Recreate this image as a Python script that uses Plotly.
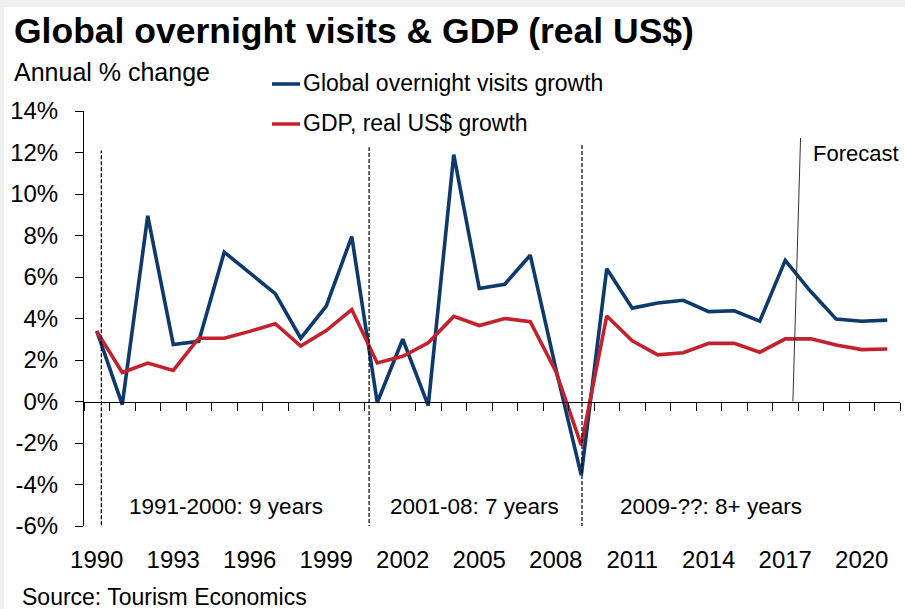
import plotly.graph_objects as go

# ---------------- data ----------------
years = list(range(1990, 2022))
visits_growth = [3.4, -0.15, 8.95, 2.75, 2.9, 7.2, 6.2, 5.2, 3.05, 4.6,
                 7.95, -0.05, 3.0, -0.2, 11.9, 5.45, 5.65, 7.05, 1.6, -3.55,
                 6.4, 4.5, 4.75, 4.88, 4.33, 4.37, 3.87, 6.8, 5.3, 3.97,
                 3.87, 3.92]
gdp_growth = [3.38, 1.4, 1.85, 1.5, 3.05, 3.05, 3.38, 3.75, 2.67, 3.42,
              4.43, 1.86, 2.18, 2.83, 4.1, 3.66, 4.0, 3.85, 1.46, -2.1,
              4.12, 2.92, 2.25, 2.35, 2.8, 2.8, 2.37, 3.02, 3.02, 2.72,
              2.5, 2.53]
year_labels = [str(y) for y in range(1990, 2021, 3)]
y_ticks = list(range(-6, 15, 2))
y_tick_labels = [f"{v}%" for v in y_ticks]
series_names = ["Global overnight visits growth", "GDP, real US$ growth"]
era_labels = ["1991-2000: 9 years", "2001-08: 7 years", "2009-??: 8+ years"]

# ---------------- layout constants ----------------
W, H = 905, 609
L, R, T, B = 84, 5, 111, 83
PW, PH = W - L - R, H - T - B
YMIN, YMAX = -6, 14
FONT = "Liberation Sans, Arial, sans-serif"
BLUE = "#0d3a6b"
RED = "#c4212e"


def px(x):
    return (x - L) / PW


def py(y):
    return (H - B - y) / PH


fig = go.Figure()
fig.add_trace(go.Scatter(x=years, y=visits_growth, mode="lines",
                         line=dict(color=BLUE, width=3.6),
                         name=series_names[0], showlegend=False,
                         hoverinfo="skip"))
fig.add_trace(go.Scatter(x=years, y=gdp_growth, mode="lines",
                         line=dict(color=RED, width=3.6),
                         name=series_names[1], showlegend=False,
                         hoverinfo="skip"))
# invisible trace to activate the zero-crossing category axis
fig.add_trace(go.Scatter(x=years, y=gdp_growth, mode="lines", xaxis="x2",
                         opacity=0, showlegend=False, hoverinfo="skip"))

boundaries = [y - 0.5 for y in years] + [years[-1] + 0.5]
xr = [years[0] - 0.5, years[-1] + 0.5]

shapes = []
# white card over light-gray frame
shapes.append(dict(type="rect", xref="paper", yref="paper",
                   x0=px(4), x1=px(W + 2), y0=py(H + 2), y1=py(7),
                   fillcolor="white", line=dict(width=0), layer="below"))
# era divider dashed lines
for xv, ytop, ybot in [(1990.18, 12.1, -6.25), (2000.68, 12.25, -6.15),
                       (2009.03, 12.4, -6.05)]:
    shapes.append(dict(type="line", xref="x", yref="y", x0=xv, x1=xv,
                       y0=ybot, y1=ytop,
                       line=dict(color="black", width=1.2, dash="4px,2px")))
# forecast divider
shapes.append(dict(type="line", xref="x", yref="y", x0=2017.3, y0=0,
                   x1=2017.6, y1=12.7, line=dict(color="#333333", width=1)))
# legend samples
for yy, col in [(84, BLUE), (124, RED)]:
    shapes.append(dict(type="line", xref="paper", yref="paper",
                       x0=px(272), x1=px(300), y0=py(yy), y1=py(yy),
                       line=dict(color=col, width=3.5)))

ann = []


def text(t, x, y, size, anchor="left", bold=False):
    ann.append(dict(text=f"<b>{t}</b>" if bold else t, xref="paper",
                    yref="paper", x=px(x), y=py(y), xanchor=anchor,
                    yanchor="middle", showarrow=False,
                    font=dict(family=FONT, size=size, color="black")))


text("Global overnight visits &amp; GDP (real US$)", 12, 31, 35.5, bold=True)
text("Annual % change", 12, 72, 25)
text(series_names[0], 301, 83, 23)
text(series_names[1], 301, 123, 23)
text("Forecast", 811, 153, 22)
for lab, cx in zip(era_labels, [226, 474, 711]):
    text(lab, cx, 506, 22.5, anchor="center")
text("Source: Tourism Economics", 20, 597, 23)

fig.update_layout(
    width=W, height=H, autosize=False,
    margin=dict(l=L, r=R, t=T, b=B, pad=0),
    paper_bgcolor="#f0f0f0", plot_bgcolor="white",
    font=dict(family=FONT, size=24, color="black"),
    showlegend=False,
    xaxis=dict(range=xr, showgrid=False, zeroline=False, showline=False,
               tickvals=[int(v) for v in year_labels], ticktext=year_labels,
               ticks="outside", ticklen=12, tickcolor="rgba(0,0,0,0)",
               tickfont=dict(size=24, family=FONT, color="black")),
    xaxis2=dict(range=xr, overlaying="x", anchor="free",
                position=(0 - YMIN) / (YMAX - YMIN), side="bottom",
                showgrid=False, zeroline=False, showline=True,
                linecolor="black", linewidth=1, tickvals=boundaries,
                ticks="outside", ticklen=8, tickwidth=1, tickcolor="black",
                showticklabels=False),
    yaxis=dict(range=[YMIN, YMAX], showgrid=False, zeroline=False,
               showline=True, linecolor="black", linewidth=1,
               tickvals=y_ticks, ticktext=y_tick_labels, ticks="outside",
               ticklen=8, tickwidth=1, tickcolor="black",
               ticklabelstandoff=12,
               tickfont=dict(size=24, family=FONT, color="black")),
    shapes=shapes, annotations=ann,
)

fig.write_html("out.html", config={"displayModeBar": False},
               post_script="document.body.style.margin='0';"
                           "document.body.style.overflow='hidden';")
